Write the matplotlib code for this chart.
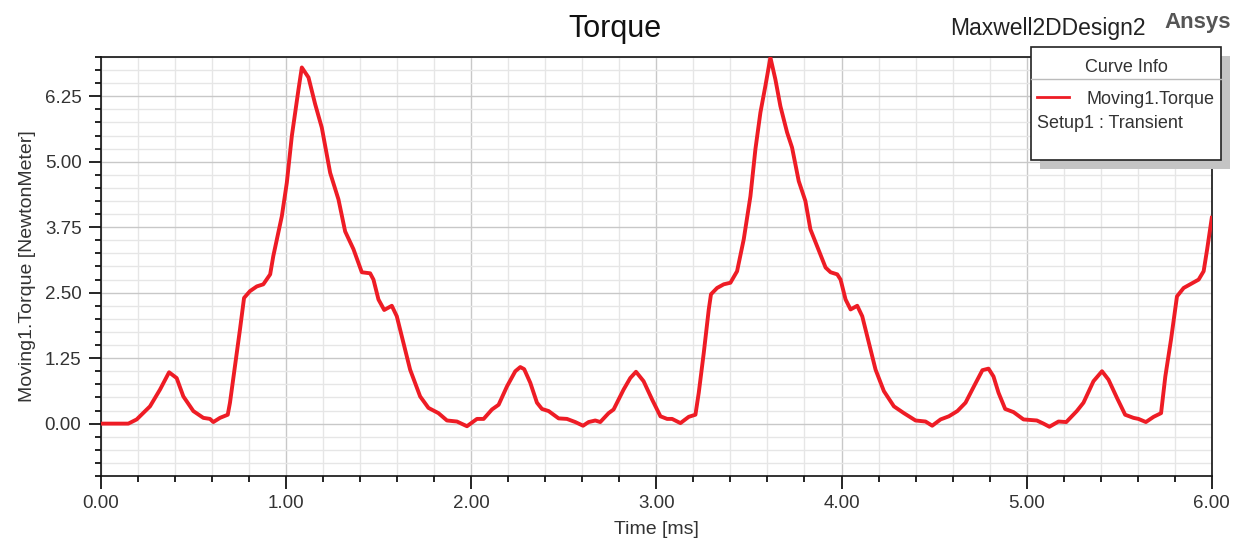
import matplotlib
matplotlib.use("Agg")
import matplotlib.pyplot as plt
from matplotlib.patches import Rectangle
from matplotlib.lines import Line2D
from matplotlib.ticker import MultipleLocator, FormatStrFormatter

plt.rcParams["font.family"] = ["Liberation Sans", "DejaVu Sans"]

# Time [ms] and torque [NewtonMeter]
time_ms = [
    0.000, 0.148, 0.193, 0.265, 0.319, 0.368, 0.409, 0.445, 0.499, 0.553,
    0.589, 0.607, 0.643, 0.685, 0.697, 0.724, 0.751, 0.773, 0.805, 0.842,
    0.877, 0.914, 0.931, 0.977, 1.004, 1.031, 1.067, 1.085, 1.121, 1.157,
    1.193, 1.238, 1.283, 1.319, 1.364, 1.409, 1.454, 1.472, 1.499, 1.530,
    1.571, 1.598, 1.634, 1.670, 1.724, 1.769, 1.823, 1.869, 1.923, 1.977,
    2.031, 2.067, 2.112, 2.148, 2.193, 2.238, 2.265, 2.286, 2.319, 2.355,
    2.382, 2.418, 2.472, 2.517, 2.562, 2.604, 2.634, 2.670, 2.697, 2.742,
    2.769, 2.823, 2.859, 2.890, 2.931, 2.977, 3.022, 3.058, 3.085, 3.130,
    3.175, 3.211, 3.229, 3.256, 3.283, 3.295, 3.328, 3.364, 3.400, 3.436,
    3.472, 3.508, 3.535, 3.562, 3.589, 3.616, 3.643, 3.670, 3.706, 3.733,
    3.769, 3.805, 3.832, 3.868, 3.914, 3.941, 3.977, 3.995, 4.022, 4.049,
    4.085, 4.112, 4.148, 4.184, 4.229, 4.283, 4.337, 4.400, 4.454, 4.490,
    4.535, 4.580, 4.626, 4.670, 4.715, 4.761, 4.794, 4.821, 4.848, 4.884,
    4.929, 4.983, 5.055, 5.091, 5.123, 5.172, 5.214, 5.271, 5.307, 5.361,
    5.407, 5.442, 5.488, 5.532, 5.577, 5.604, 5.644, 5.686, 5.726, 5.749,
    5.780, 5.812, 5.848, 5.893, 5.929, 5.956, 5.975, 6.000,
]
torque_nm = [
    0.00, 0.00, 0.08, 0.33, 0.65, 0.98, 0.87, 0.52, 0.24, 0.11,
    0.09, 0.03, 0.11, 0.17, 0.40, 1.10, 1.80, 2.40, 2.53, 2.62,
    2.66, 2.85, 3.20, 3.96, 4.60, 5.49, 6.38, 6.80, 6.61, 6.10,
    5.65, 4.79, 4.28, 3.67, 3.33, 2.89, 2.87, 2.75, 2.37, 2.17,
    2.25, 2.05, 1.54, 1.03, 0.52, 0.30, 0.20, 0.06, 0.04, -0.05,
    0.09, 0.09, 0.27, 0.36, 0.71, 1.00, 1.08, 1.04, 0.78, 0.40,
    0.28, 0.24, 0.10, 0.09, 0.03, -0.04, 0.03, 0.06, 0.03, 0.20,
    0.27, 0.65, 0.87, 0.99, 0.81, 0.46, 0.14, 0.09, 0.09, 0.01,
    0.13, 0.17, 0.59, 1.35, 2.18, 2.47, 2.59, 2.66, 2.69, 2.91,
    3.52, 4.34, 5.24, 5.94, 6.45, 6.99, 6.57, 6.06, 5.56, 5.27,
    4.63, 4.25, 3.71, 3.39, 2.98, 2.89, 2.85, 2.75, 2.37, 2.18,
    2.25, 2.05, 1.54, 1.03, 0.62, 0.33, 0.20, 0.06, 0.04, -0.04,
    0.08, 0.14, 0.24, 0.40, 0.71, 1.02, 1.05, 0.90, 0.59, 0.28,
    0.22, 0.08, 0.06, 0.00, -0.06, 0.04, 0.03, 0.24, 0.40, 0.81,
    1.00, 0.84, 0.49, 0.17, 0.11, 0.09, 0.03, 0.13, 0.20, 0.90,
    1.61, 2.43, 2.59, 2.68, 2.75, 2.91, 3.33, 3.93,
]

x_ticks = [0.0, 1.0, 2.0, 3.0, 4.0, 5.0, 6.0]
y_ticks = [0.0, 1.25, 2.5, 3.75, 5.0, 6.25]

text_color = "#333333"
curve_color = "#ee1c25"

fig = plt.figure(figsize=(12.34, 5.47), dpi=100)
ax = fig.add_axes([0.0818, 0.1298, 0.9002, 0.766])

ax.plot(time_ms, torque_nm, color=curve_color, linewidth=2.8, zorder=3)

ax.set_xlim(0, 6)
ax.set_ylim(-1.0, 7.0)
ax.set_xticks(x_ticks)
ax.set_yticks(y_ticks)
ax.xaxis.set_minor_locator(MultipleLocator(0.2))
ax.yaxis.set_minor_locator(MultipleLocator(0.25))
ax.xaxis.set_major_formatter(FormatStrFormatter("%.2f"))
ax.yaxis.set_major_formatter(FormatStrFormatter("%.2f"))

ax.grid(which="major", color="#c8c8c8", linewidth=1.0, zorder=0)
ax.grid(which="minor", color="#e6e6e6", linewidth=1.0, zorder=0)
ax.set_axisbelow(True)

ax.tick_params(which="major", direction="out", length=9, width=1.2,
               labelsize=13.5, labelcolor=text_color, pad=5)
ax.tick_params(which="minor", direction="out", length=4.5, width=1.2)
ax.tick_params(top=False, right=False, which="both")
for side in ["left", "bottom", "top", "right"]:
    ax.spines[side].set_linewidth(1.2)
    ax.spines[side].set_color("#111111")

ax.set_xlabel("Time [ms]", fontsize=14, color=text_color, labelpad=6)
ax.set_ylabel("Moving1.Torque [NewtonMeter]", fontsize=14, color=text_color, labelpad=6)

fig.text(0.498, 0.947, "Torque", ha="center", va="center", fontsize=22, color="#111111")
fig.text(0.77, 0.947, "Maxwell2DDesign2", ha="left", va="center", fontsize=16.5, color="#222222")
fig.text(0.944, 0.958, "Ansys", ha="left", va="center", fontsize=16, fontweight="bold",
         color="#555555")

# Curve info box with drop shadow (pixel coordinates of the figure)
W, H = 1234.0, 547.0
bx0, by0, bx1, by1 = 1031, 47, 1221, 160
shadow = Rectangle(((bx0 + 9) / W, 1 - (by1 + 9) / H), (bx1 - bx0) / W, (by1 - by0) / H,
                   transform=fig.transFigure, facecolor="#c4c4c4", edgecolor="none", zorder=5)
box = Rectangle((bx0 / W, 1 - by1 / H), (bx1 - bx0) / W, (by1 - by0) / H,
                transform=fig.transFigure, facecolor="white", edgecolor="#222222",
                linewidth=1.2, zorder=6)
fig.patches.extend([shadow, box])
fig.lines.append(Line2D([bx0 / W, bx1 / W], [1 - 79 / H, 1 - 79 / H], transform=fig.transFigure,
                        color="#bbbbbb", linewidth=1.0, zorder=7))
fig.lines.append(Line2D([1037 / W, 1069 / W], [1 - 97 / H, 1 - 97 / H], transform=fig.transFigure,
                        color=curve_color, linewidth=2.0, zorder=7))
fig.text((bx0 + bx1) / 2 / W, 1 - 67 / H, "Curve Info", ha="center", va="center",
         fontsize=13, color=text_color, zorder=8)
fig.text(1087 / W, 1 - 100 / H, "Moving1.Torque", ha="left", va="center",
         fontsize=13, color=text_color, zorder=8)
fig.text(1037 / W, 1 - 124 / H, "Setup1 : Transient", ha="left", va="center",
         fontsize=13, color=text_color, zorder=8)

fig.savefig("out.png", dpi=100)
